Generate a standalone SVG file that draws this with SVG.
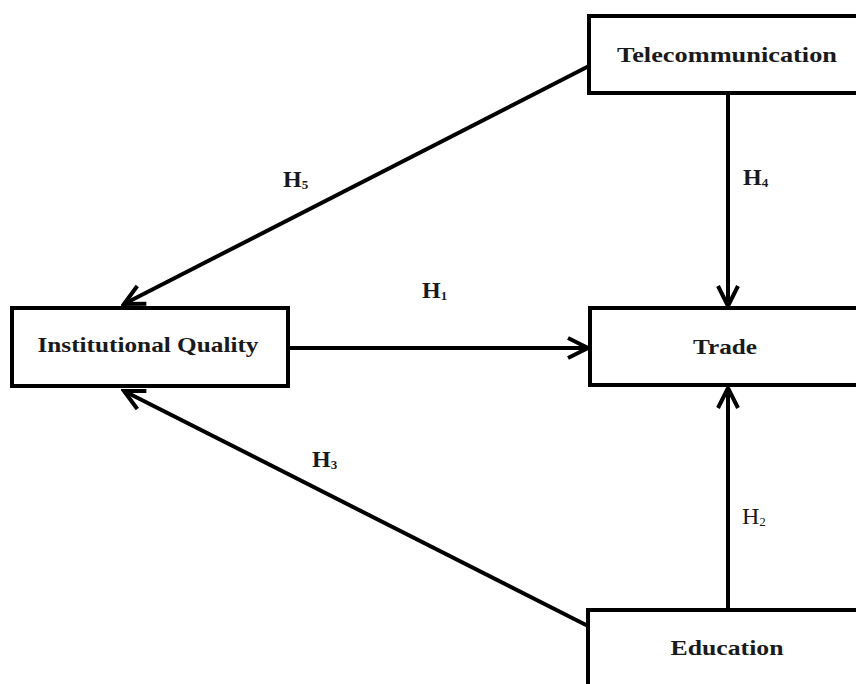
<svg xmlns="http://www.w3.org/2000/svg" width="856" height="684" viewBox="0 0 856 684">
<defs>
<style>
.box{fill:#fff;stroke:#000;stroke-width:4}
.conn{stroke:#000;stroke-width:4;fill:none;marker-end:url(#arr)}
</style>
<marker id="arr" markerUnits="userSpaceOnUse" viewBox="0 0 26 26" markerWidth="26" markerHeight="26" refX="23" refY="13" orient="auto">
<path d="M3,3 L23,13 L3,23" fill="none" stroke="#000" stroke-width="4" stroke-linejoin="miter"/>
</marker>
</defs>
<rect width="856" height="684" fill="#fff"/>
<g id="connectors">
<line class="conn" x1="589" y1="66" x2="124" y2="304"/>
<line class="conn" x1="728" y1="93" x2="728" y2="306"/>
<line class="conn" x1="288" y1="348" x2="588" y2="348"/>
<line class="conn" x1="728" y1="609" x2="728" y2="388"/>
<line class="conn" x1="588" y1="626" x2="124" y2="391"/>
</g>
<g font-family="Liberation Serif, Times New Roman, serif" font-weight="bold" font-size="22" fill="#1a1a1a">
<g id="telecommunication">
<rect class="box" x="589" y="16" width="280" height="77"/>
<text x="727" y="62" text-anchor="middle" textLength="220" lengthAdjust="spacingAndGlyphs">Telecommunication</text>
</g>
<g id="institutional-quality">
<rect class="box" x="12" y="308" width="276" height="78"/>
<text x="148" y="352" text-anchor="middle" textLength="221" lengthAdjust="spacingAndGlyphs">Institutional Quality</text>
</g>
<g id="trade">
<rect class="box" x="590" y="308" width="280" height="77"/>
<text x="725" y="354" text-anchor="middle" textLength="64" lengthAdjust="spacingAndGlyphs">Trade</text>
</g>
<g id="education">
<rect class="box" x="588" y="610" width="280" height="90"/>
<text x="727" y="655" text-anchor="middle" textLength="113" lengthAdjust="spacingAndGlyphs">Education</text>
</g>
<g id="labels" font-size="24">
<text x="283" y="187">H<tspan font-size="13" dy="2">5</tspan></text>
<text x="422" y="298">H<tspan font-size="13" dy="2">1</tspan></text>
<text x="312" y="467">H<tspan font-size="13" dy="2">3</tspan></text>
<text x="743" y="185">H<tspan font-size="13" dy="2">4</tspan></text>
<text x="742" y="524" font-weight="normal">H<tspan font-size="13" dy="2">2</tspan></text>
</g>
</g>
</svg>
